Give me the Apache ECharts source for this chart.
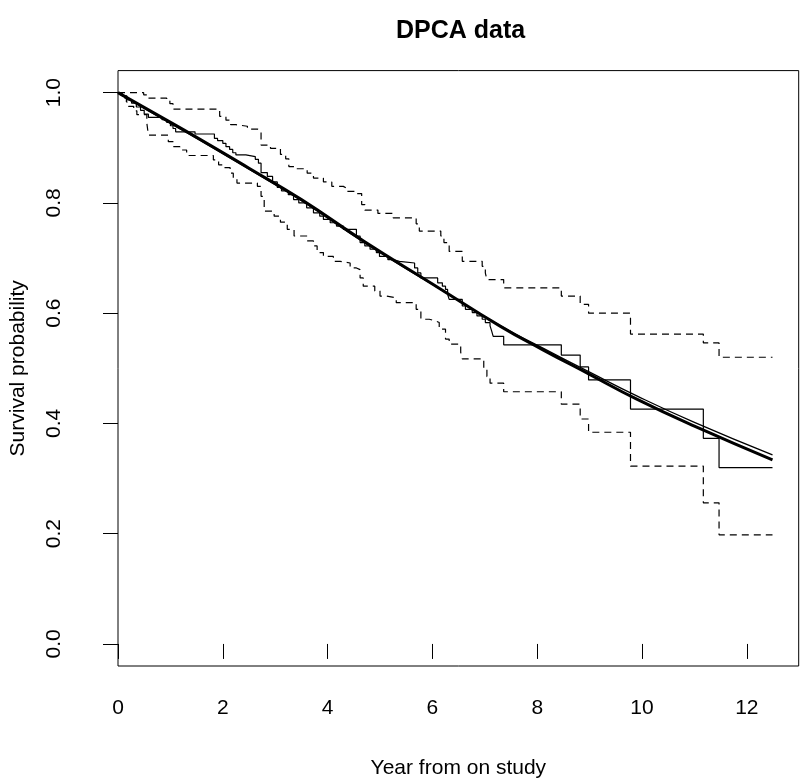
<!DOCTYPE html>
<html><head><meta charset="utf-8">
<script src="https://cdn.jsdelivr.net/npm/echarts@6/dist/echarts.min.js"></script>
<style>html,body{margin:0;padding:0;background:#fff}#c{width:800px;height:784px}</style>
</head><body><div id="c"></div>
<script>
// Kaplan-Meier estimate: [time, survival], step holds until next time
const kmSteps = [[0,1.000],[0.08,0.994],[0.17,0.987],[0.26,0.981],[0.35,0.974],[0.43,0.968],[0.50,0.961],[0.58,0.955],
  [0.84,0.951],[0.93,0.946],[1.00,0.940],[1.05,0.935],[1.10,0.929],[1.47,0.925],[1.84,0.917],[1.90,0.913],[2.00,0.908],
  [2.06,0.902],[2.13,0.897],[2.19,0.891],[2.25,0.887],[2.44,0.884],[2.62,0.879],[2.68,0.872],[2.73,0.855],[2.85,0.848],
  [2.95,0.838],[3.04,0.828],[3.12,0.822],[3.25,0.815],[3.35,0.806],[3.45,0.800],[3.60,0.791],[3.73,0.782],[3.85,0.776],
  [3.92,0.770],[4.05,0.764],[4.17,0.758],[4.30,0.752],[4.55,0.740],[4.62,0.728],[4.71,0.722],[4.81,0.716],[4.93,0.710],
  [4.99,0.703],[5.15,0.697],[5.25,0.694],[5.37,0.691],[5.66,0.682],[5.72,0.673],[5.78,0.664],[6.10,0.655],[6.19,0.649],
  [6.25,0.643],[6.29,0.634],[6.32,0.625],[6.57,0.613],[6.63,0.607],[6.76,0.601],[6.85,0.595],[6.95,0.589],[7.01,0.583],
  [7.10,0.577],[7.13,0.568],[7.16,0.558],[7.36,0.5425],[8.46,0.524],[8.82,0.5025],[8.98,0.479],[9.78,0.426],[11.17,0.373],
  [11.47,0.320],[12.49,0.320]];
// Upper confidence limit
const upperSteps = [[0,1.0],[0.49,0.996],[0.58,0.990],[0.93,0.985],[0.99,0.980],[1.05,0.970],[1.94,0.957],[2.06,0.950],
  [2.15,0.942],[2.25,0.939],[2.47,0.934],[2.66,0.931],[2.73,0.905],[2.91,0.899],[3.10,0.888],[3.20,0.880],[3.26,0.866],
  [3.36,0.862],[3.61,0.854],[3.73,0.845],[3.92,0.838],[4.08,0.830],[4.30,0.827],[4.36,0.821],[4.55,0.817],[4.65,0.797],
  [4.71,0.787],[4.96,0.781],[5.25,0.773],[5.69,0.762],[5.75,0.749],[6.16,0.740],[6.22,0.728],[6.32,0.712],[6.57,0.694],
  [6.95,0.685],[7.01,0.673],[7.04,0.661],[7.36,0.646],[8.46,0.631],[8.82,0.616],[8.98,0.600],[9.78,0.562],[11.17,0.546],
  [11.47,0.520],[12.49,0.520]];
// Lower confidence limit
const lowerSteps = [[0,1.0],[0.05,0.996],[0.11,0.990],[0.16,0.983],[0.20,0.975],[0.30,0.967],[0.36,0.960],[0.55,0.945],
  [0.58,0.923],[0.96,0.911],[1.06,0.902],[1.18,0.896],[1.31,0.886],[1.82,0.878],[1.92,0.869],[2.01,0.864],[2.14,0.854],
  [2.20,0.845],[2.27,0.836],[2.66,0.830],[2.73,0.812],[2.79,0.785],[2.98,0.776],[3.10,0.765],[3.23,0.752],[3.36,0.740],
  [3.61,0.731],[3.73,0.722],[3.80,0.710],[3.92,0.703],[4.11,0.694],[4.24,0.691],[4.43,0.682],[4.55,0.679],[4.62,0.664],
  [4.68,0.649],[4.90,0.640],[5.00,0.631],[5.12,0.628],[5.31,0.619],[5.69,0.607],[5.78,0.589],[5.94,0.586],[6.06,0.583],
  [6.13,0.571],[6.25,0.553],[6.32,0.544],[6.54,0.529],[6.57,0.517],[6.98,0.499],[7.04,0.485],[7.10,0.473],[7.36,0.4575],
  [8.46,0.435],[8.82,0.408],[8.98,0.384],[9.78,0.3226],[11.17,0.256],[11.47,0.198],[12.49,0.198]];
// Parametric fits (thick and thin smooth curves)
const fitThick = [[0,1.0],[0.8,0.957],[1.5,0.919],[2.5,0.863],[3.5,0.806],[4.7,0.730],[6.0,0.653],[7.3,0.576],
  [8.1,0.534],[9.0,0.489],[9.9,0.444],[11.0,0.395],[12.49,0.334]];
const fitThin = [[0,1.0],[0.8,0.955],[1.5,0.917],[2.5,0.861],[3.5,0.804],[4.7,0.728],[6.0,0.652],[7.3,0.577],
  [8.1,0.537],[9.0,0.493],[9.9,0.450],[11.0,0.402],[12.49,0.343]];
const xTicks = [0, 2, 4, 6, 8, 10, 12];
const yTicks = [0, 0.2, 0.4, 0.6, 0.8, 1.0];

const FONT = '"Liberation Sans", Arial, Helvetica, sans-serif';
const chart = echarts.init(document.getElementById('c'), null, {renderer: 'canvas'});
const ink = '#000';
chart.setOption({
  animation: false,
  backgroundColor: '#fff',
  title: {
    text: 'DPCA data', left: 455.6, top: 14, textAlign: 'center',
    textStyle: {fontFamily: FONT, fontSize: 25, fontWeight: 'bold', color: ink}
  },
  grid: {left: 112.5, right: 1.3, top: 70.6, bottom: 116.5, show: true, borderColor: ink, borderWidth: 1, containLabel: false},
  xAxis: {
    type: 'value', min: 0, max: 12.99,
    name: 'Year from on study', nameLocation: 'middle', nameGap: 92,
    nameTextStyle: {fontFamily: FONT, fontSize: 21, color: ink},
    axisLine: {show: false},
    axisTick: {show: true, customValues: xTicks, length: 15, lineStyle: {color: ink, width: 1}},
    axisLabel: {customValues: xTicks, margin: 32, fontFamily: FONT, fontSize: 21, color: ink},
    splitLine: {show: false}
  },
  yAxis: {
    type: 'value', min: -0.04, max: 1.04,
    name: 'Survival probability', nameLocation: 'middle', nameGap: 89, nameRotate: 90,
    nameTextStyle: {fontFamily: FONT, fontSize: 21, color: ink},
    axisLine: {show: false},
    axisTick: {show: true, customValues: yTicks, length: 15, lineStyle: {color: ink, width: 1}},
    axisLabel: {customValues: yTicks, rotate: 90, margin: 53, fontFamily: FONT, fontSize: 21, color: ink,
      formatter: v => Number(v).toFixed(1)},
    splitLine: {show: false}
  },
  series: [
    {type: 'line', data: upperSteps, step: 'end', showSymbol: false, silent: true,
      lineStyle: {color: ink, width: 1.2, type: [7, 5]}},
    {type: 'line', data: lowerSteps, step: 'end', showSymbol: false, silent: true,
      lineStyle: {color: ink, width: 1.2, type: [7, 5]}},
    {type: 'line', data: kmSteps, step: 'end', showSymbol: false, silent: true,
      lineStyle: {color: ink, width: 1.2}},
    {type: 'line', data: fitThick, smooth: 0.5, showSymbol: false, silent: true,
      lineStyle: {color: ink, width: 3}},
    {type: 'line', data: fitThin, smooth: 0.5, showSymbol: false, silent: true,
      lineStyle: {color: ink, width: 1.3}}
  ]
});
</script></body></html>
